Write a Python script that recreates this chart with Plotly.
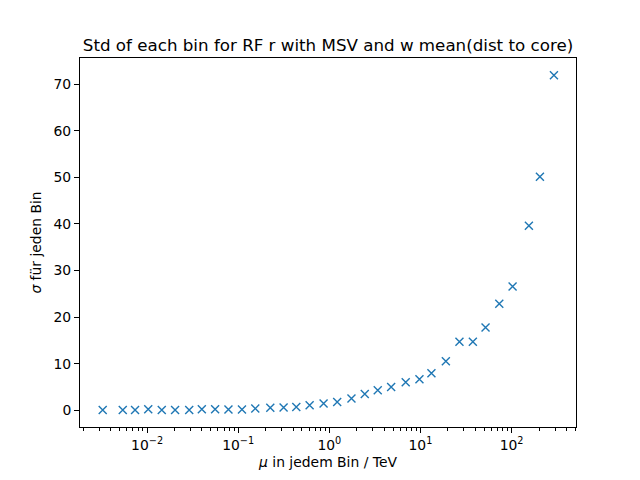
import numpy as np
import plotly.graph_objects as go

# bin means (TeV) and std per bin
mu_bin = [0.00326, 0.00541, 0.00738, 0.0103, 0.0145, 0.0203, 0.0290, 0.0399,
          0.0558, 0.0782, 0.110, 0.154, 0.225, 0.315, 0.434, 0.608, 0.865,
          1.22, 1.75, 2.45, 3.40, 4.77, 6.89, 9.75, 13.2, 19.0, 26.8, 37.6,
          51.8, 73.3, 102.6, 154.9, 204.7, 291.7]
sigma_bin = [0.05, 0.05, 0.05, 0.2, 0.05, 0.05, 0.05, 0.2, 0.2, 0.15, 0.15,
             0.35, 0.55, 0.58, 0.71, 1.07, 1.44, 1.78, 2.5, 3.5, 4.29, 5.0,
             6.0, 6.64, 7.93, 10.5, 14.72, 14.72, 17.78, 22.86, 26.57, 39.6,
             50.1, 71.9]

major_x = [1e-2, 1e-1, 1e0, 1e1, 1e2]
major_x_text = ["10<sup>−2</sup>", "10<sup>−1</sup>", "10<sup>0</sup>",
                "10<sup>1</sup>", "10<sup>2</sup>"]
minor_x = [m * 10.0 ** e for e in range(-3, 3) for m in range(2, 10)]

FONT = "DejaVu Sans"
C0 = "#1f77b4"

fig = go.Figure()
fig.add_trace(go.Scatter(
    x=mu_bin, y=sigma_bin, mode="markers",
    marker=dict(symbol="x-thin", size=8, color=C0,
                line=dict(width=1.4, color=C0)),
    showlegend=False,
))

axis_common = dict(
    showline=True, linecolor="black", linewidth=1, mirror=True,
    ticks="outside", ticklen=5, tickwidth=1, tickcolor="black",
    showgrid=False, zeroline=False,
    tickfont=dict(family=FONT, size=13.9, color="black"),
)

fig.update_xaxes(
    type="log", range=[-2.736, 2.707],
    tickmode="array", tickvals=major_x, ticktext=major_x_text,
    minor=dict(tickmode="array", tickvals=minor_x, ticks="outside",
               ticklen=3, tickwidth=0.8, tickcolor="black"),
    title=dict(text="<i>μ</i> in jedem Bin / TeV",
               font=dict(family=FONT, size=13.9, color="black"), standoff=5),
    **axis_common,
)
fig.update_yaxes(
    range=[-3.6, 75.6], tickmode="array", tickvals=list(range(0, 80, 10)),
    title=dict(text="<i>σ</i> für jeden Bin",
               font=dict(family=FONT, size=13.9, color="black"), standoff=8),
    **axis_common,
)

fig.update_layout(
    width=640, height=480,
    margin=dict(l=80, r=64, t=57.6, b=52.8),
    paper_bgcolor="white", plot_bgcolor="white",
    title=dict(text="Std of each bin for RF r with MSV and w mean(dist to core)",
               font=dict(family=FONT, size=16.7, color="black"),
               x=0.5, xref="paper", xanchor="center",
               y=1 - 51 / 480, yref="container", yanchor="bottom"),
)

fig.write_html("out.html", config={"displayModeBar": False},
               post_script="document.body.style.margin='0';")
